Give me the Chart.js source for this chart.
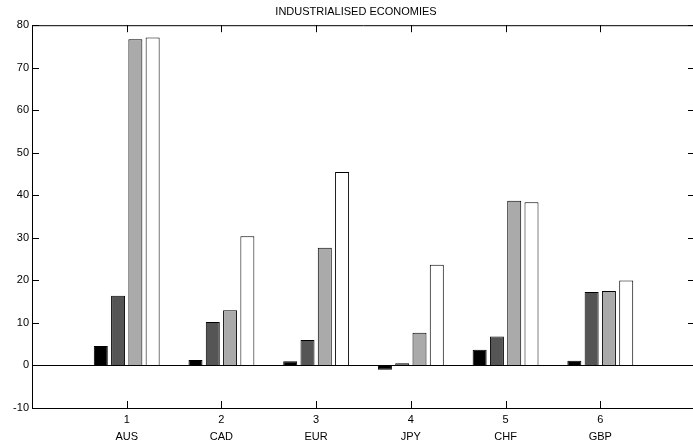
<!DOCTYPE html>
<html>
<head>
<meta charset="utf-8">
<script src="https://cdn.jsdelivr.net/npm/chart.js@4.4.1/dist/chart.umd.min.js"></script>
<style>
  html, body { margin: 0; padding: 0; background: #fff; overflow: hidden; }
  #wrap { width: 712px; height: 444px; }
</style>
</head>
<body>
<div id="wrap"><canvas id="chart"></canvas></div>
<script>
const economies = ['AUS', 'CAD', 'EUR', 'JPY', 'CHF', 'GBP'];
const series1 = [4.6, 1.3, 1.0, -1.0, 3.7, 1.1];
const series2 = [16.4, 10.2, 6.0, 0.5, 6.8, 17.3];
const series3 = [76.7, 13.0, 27.7, 7.7, 38.7, 17.5];
const series4 = [77.1, 30.4, 45.5, 23.7, 38.4, 20.0];
const yTicks = [-10, 0, 10, 20, 30, 40, 50, 60, 70, 80];

const toPoints = (vals) => vals.map((v, i) => ({ x: i + 1, y: v }));
const font = { family: "'Liberation Sans', Arial, sans-serif", size: 11 };

// inward tick marks on all four sides plus the top frame line
const frameTicks = {
    id: 'frameTicks',
    afterDraw(chart) {
        const { ctx, chartArea: a, scales: { x, y } } = chart;
        ctx.save();
        ctx.strokeStyle = '#000';
        ctx.lineWidth = 1;
        ctx.beginPath();
        ctx.moveTo(a.left, a.top + 0.5);
        ctx.lineTo(a.right, a.top + 0.5);
        for (const v of yTicks) {
            const py = Math.round(y.getPixelForValue(v)) + 0.5;
            ctx.moveTo(a.left, py); ctx.lineTo(a.left + 7, py);
            ctx.moveTo(a.right, py); ctx.lineTo(a.right - 7, py);
        }
        for (let i = 1; i <= economies.length; i++) {
            const px = Math.round(x.getPixelForValue(i)) + 0.5;
            ctx.moveTo(px, a.top); ctx.lineTo(px, a.top + 7);
            ctx.moveTo(px, a.bottom); ctx.lineTo(px, a.bottom - 7);
        }
        ctx.stroke();
        ctx.restore();
    }
};

const ds = (data, color) => ({
    data: toPoints(data),
    backgroundColor: color,
    borderColor: '#000',
    borderWidth: 1,
    categoryPercentage: 0.73,
    barPercentage: 0.81
});

new Chart(document.getElementById('chart'), {
    type: 'bar',
    data: {
        datasets: [
            ds(series1, '#000000'),
            ds(series2, '#555555'),
            ds(series3, '#aaaaaa'),
            ds(series4, '#ffffff')
        ]
    },
    options: {
        responsive: true,
        maintainAspectRatio: false,
        animation: false,
        layout: { padding: 0 },
        plugins: {
            legend: { display: false },
            tooltip: { enabled: false },
            title: {
                display: true,
                text: 'INDUSTRIALISED ECONOMIES',
                color: '#000',
                font: { ...font, weight: 'normal', lineHeight: 1.2 },
                padding: { top: 5, bottom: 7 }
            }
        },
        scales: {
            x: {
                type: 'linear',
                min: 0,
                max: 7,
                offset: false,
                afterFit: (s) => { s.height = 36; },
                grid: { display: false, drawTicks: false, offset: false },
                border: { display: true, color: '#000', width: 1 },
                ticks: {
                    stepSize: 1,
                    color: '#000',
                    padding: 3,
                    maxRotation: 0,
                    autoSkip: false,
                    font: { ...font, lineHeight: 1.55 },
                    callback: (v) => (v >= 1 && v <= economies.length) ? [String(v), economies[v - 1]] : ''
                }
            },
            y: {
                min: -10,
                max: 80,
                afterFit: (s) => { s.width = 32; },
                grid: {
                    drawTicks: false,
                    color: (c) => c.tick && c.tick.value === 0 ? '#000' : 'rgba(0,0,0,0)'
                },
                border: { display: true, color: '#000', width: 1 },
                ticks: { stepSize: 10, color: '#000', padding: 3, font: font }
            },
            yRight: {
                position: 'right',
                min: -10,
                max: 80,
                afterFit: (s) => { s.width = 17; },
                grid: { display: false, drawTicks: false },
                border: { display: false },
                ticks: { display: false }
            }
        }
    },
    plugins: [frameTicks]
});
</script>
</body>
</html>
